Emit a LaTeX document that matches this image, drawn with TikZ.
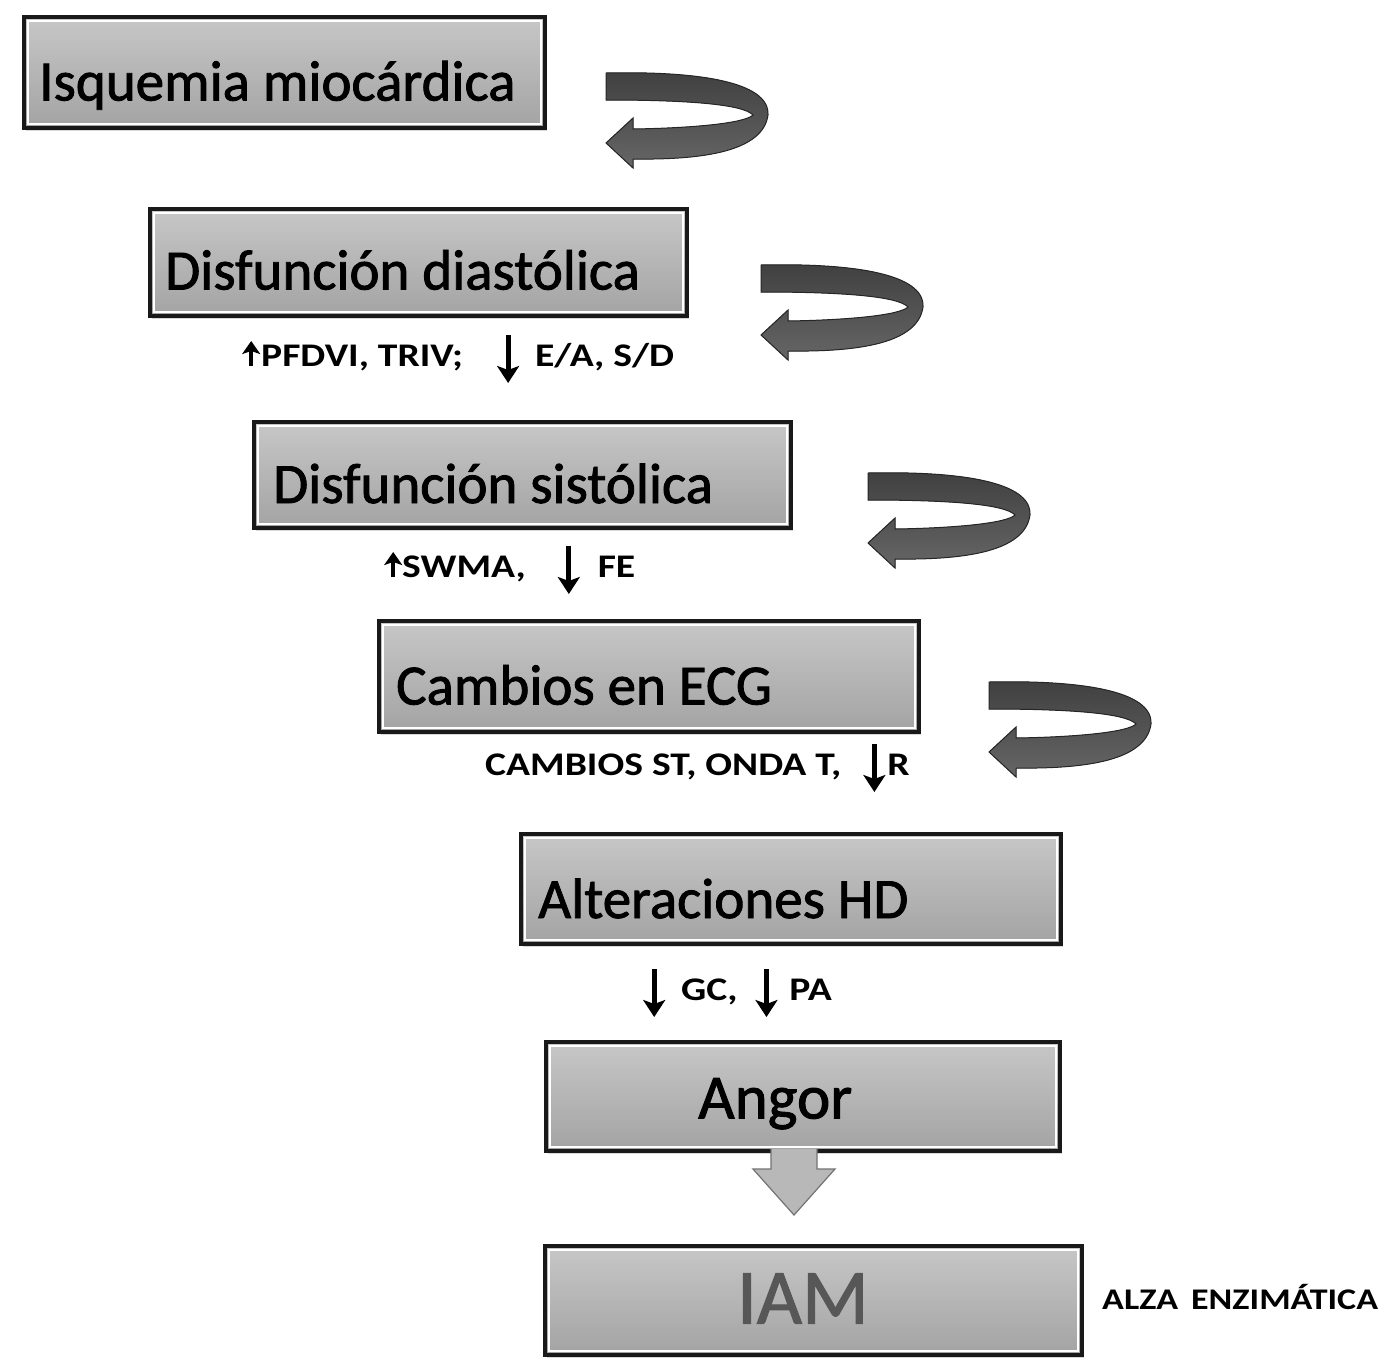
\documentclass[tikz,border=0pt]{standalone}
\usepackage{fontspec}
\setmainfont{Carlito}
\newfontfamily\boxfont[FakeBold=1.5]{Carlito}
\newfontfamily\lblfont[FakeStretch=1.2]{Carlito}
\usetikzlibrary{shadows,arrows.meta}
\newcommand\upar{\tikz[baseline=0pt]\draw[line width=4.5pt, -{Stealth[width=18pt,length=13pt,inset=3pt]}] (0pt,0pt) -- (0pt,25pt);}
\newcommand\dnar{\tikz[baseline=0pt]\draw[line width=5pt, -{Stealth[width=22pt,length=17pt,inset=4pt]}] (0pt,31pt) -- (0pt,-17pt);}
\tikzset{
  caja/.style={draw=black!90, line width=4pt, top color=black!22, bottom color=black!36,
    anchor=north west, inner sep=0pt,
    drop shadow={shadow xshift=2pt, shadow yshift=-3pt, opacity=.3},
    path picture={\draw[white, line width=1.2pt]
      ([xshift=4pt,yshift=-4pt]path picture bounding box.north west) rectangle
      ([xshift=-4pt,yshift=4pt]path picture bounding box.south east);}},
  rotulo/.style={anchor=base west, inner sep=0pt, font=\boxfont\fontsize{57}{60}\selectfont},
  nota/.style={anchor=base west, inner sep=0pt, font=\lblfont\bfseries\fontsize{33}{36}\selectfont},
  flecha/.style={draw=black!55, line width=1.2pt, fill=black!28},
  giro/.pic={\fill[top color=black!75, bottom color=black!60, draw=black!85, line width=1pt]
    (1,0) .. controls (90,-2) and (165,8) .. (163,42) .. controls (158,78) and (100,87) .. (28,86)
    -- (28,95) -- (1,70) -- (28,45) -- (28,56) .. controls (90,55) and (140,50) .. (148,42)
    .. controls (138,31) and (80,27) .. (1,27) -- cycle;}
}
\begin{document}
\begin{tikzpicture}[x=1pt, y=-1pt]
\useasboundingbox[fill=white] (0,0) rectangle (1396,1369);
% cajas
\node[caja, minimum width=521pt, minimum height=111pt] (isq) at (22,15) {};
\node[caja, minimum width=537pt, minimum height=107pt] (dia) at (148,207) {};
\node[caja, minimum width=537pt, minimum height=106pt] (sis) at (252,420) {};
\node[caja, minimum width=540pt, minimum height=111pt] (ecg) at (377,619) {};
\node[caja, minimum width=540pt, minimum height=110pt] (hd) at (519,832) {};
\node[caja, minimum width=514pt, minimum height=109pt] (ang) at (544,1040) {};
\node[caja, minimum width=537pt, minimum height=109pt] (iam) at (543,1244) {};
% textos de las cajas
\node[rotulo] (isq-t) at ([xshift=17pt,yshift=-28pt]isq.west) {Isquemia miocárdica};
\node[rotulo] (dia-t) at ([xshift=17pt,yshift=-27pt]dia.west) {Disfunción diastólica};
\node[rotulo] (sis-t) at ([xshift=21pt,yshift=-28pt]sis.west) {Disfunción sistólica};
\node[rotulo] (ecg-t) at ([xshift=19pt,yshift=-28pt]ecg.west) {Cambios en ECG};
\node[rotulo] (hd-t) at ([xshift=19pt,yshift=-29pt]hd.west) {Alteraciones HD};
\node[rotulo, font=\boxfont\fontsize{63}{66}\selectfont] (ang-t) at ([xshift=154pt,yshift=-22pt]ang.west) {Angor};
\node[rotulo, font=\boxfont\fontsize{78}{80}\selectfont, text=black!66] (iam-t) at ([xshift=194pt,yshift=-23pt]iam.west) {IAM};
% notas
\node[nota] (n2) at (242,366) {\upar\hspace{1pt}PFDVI, TRIV;\hspace{34pt}\dnar\hspace{16pt}E/A, S/D};
\node[nota] (n3) at (384,577) {\upar\hspace{0pt}SWMA,\hspace{32pt}\dnar\hspace{18pt}FE};
\node[nota] (n4) at (485,775) {CAMBIOS ST, ONDA T,\hspace{22pt}\dnar\hspace{2pt}R};
\node[nota] (n5) at (643,1000) {\dnar\hspace{16pt}GC,\hspace{18pt}\dnar\hspace{12pt}PA};
\node[nota, font=\lblfont\bfseries\fontsize{30}{32}\selectfont] (n6) at (1102,1309) {ALZA\, ENZIMÁTICA};
% giros
\pic at (605,73) {giro};
\pic at (760,265) {giro};
\pic at (867,473) {giro};
\pic at (988,682) {giro};
% flecha angor -> IAM
\draw[flecha, shift={(ang.south)}] (-32,-4) -- (-32,16) -- (-50,16) -- (-9,62) -- (32,16) -- (14,16) -- (14,-4);
\end{tikzpicture}
\end{document}
